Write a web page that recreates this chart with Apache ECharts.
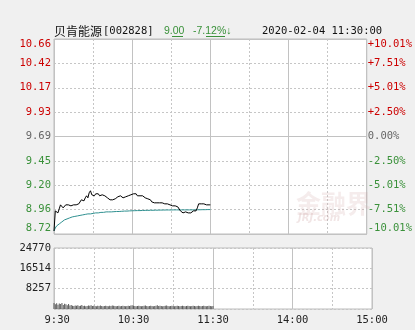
<!DOCTYPE html>
<html><head><meta charset="utf-8">
<script src="https://cdn.jsdelivr.net/npm/echarts@6/dist/echarts.min.js"></script>
<style>html,body{margin:0;padding:0;background:#f0f0f0}#c{width:415px;height:330px}</style>
</head><body><div id="c"></div>
<script>
// ---- data ----
var stockName = '贝肯能源';
var stockCode = '[002828]';
var lastPrice = '9.00';
var lastChange = '-7.12%↓';
var stamp = '2020-02-04 11:30:00';
var prevClose = 9.69;
var priceMin = 8.72, priceMax = 10.66;
var priceLabels = ['8.72','8.96','9.20','9.45','9.69','9.93','10.17','10.42','10.66'];
var pctLabels = ['-10.01%','-7.51%','-5.01%','-2.50%','0.00%','+2.50%','+5.01%','+7.51%','+10.01%'];
var volLabels = ['','8257','16514','24770'];
var volMax = 24770;
var timeLabels = [' 9:30','','10:30','','11:30','','14:00','','15:00'];
var price = [8.75,8.95,8.94,8.93,8.97,9.01,9.00,8.98,8.99,9.01,
9.02,9.01,9.00,9.00,9.01,9.01,9.01,9.01,9.01,9.02,
9.03,9.06,9.05,9.05,9.08,9.10,9.08,9.13,9.15,9.11,
9.10,9.10,9.12,9.13,9.12,9.10,9.11,9.11,9.11,9.10,
9.09,9.08,9.07,9.06,9.05,9.06,9.07,9.07,9.08,9.09,
9.09,9.10,9.09,9.08,9.08,9.09,9.09,9.10,9.11,9.11,
9.11,9.12,9.13,9.12,9.10,9.10,9.10,9.10,9.10,9.09,
9.08,9.07,9.07,9.07,9.06,9.04,9.03,9.03,9.02,9.03,
9.03,9.03,9.04,9.03,9.02,9.02,9.02,9.02,9.01,9.01,
9.01,9.00,9.00,9.00,9.00,8.99,8.98,8.95,8.94,8.93,
8.93,8.94,8.94,8.93,8.93,8.93,8.94,8.95,8.95,8.95,
8.98,9.02,9.02,9.02,9.02,9.02,9.02,9.01,9.01,9.01,9.01];
var avgPrice = [8.75,8.78,8.80,8.81,8.82,8.83,8.84,8.85,8.86,8.865,
8.87,8.875,8.88,8.885,8.89,8.89,8.895,8.895,8.90,8.90,
8.905,8.905,8.91,8.91,8.915,8.915,8.92,8.92,8.92,8.925,
8.925,8.925,8.93,8.93,8.93,8.93,8.935,8.935,8.935,8.935,
8.94,8.94,8.94,8.94,8.94,8.942,8.942,8.942,8.944,8.944,
8.944,8.946,8.946,8.946,8.948,8.948,8.948,8.95,8.95,8.95,
8.951,8.951,8.952,8.952,8.953,8.953,8.953,8.954,8.954,8.954,
8.955,8.955,8.955,8.956,8.956,8.956,8.956,8.957,8.957,8.957,
8.957,8.958,8.958,8.958,8.958,8.958,8.959,8.959,8.959,8.959,
8.959,8.96,8.96,8.96,8.96,8.96,8.96,8.96,8.96,8.96,
8.96,8.96,8.96,8.96,8.96,8.96,8.96,8.96,8.96,8.96,
8.961,8.961,8.961,8.961,8.962,8.962,8.962,8.962,8.963,8.963,8.963];
var volume = [2400,1900,2300,1700,2200,2000,2400,1600,2100,1900,
1500,2000,1400,1600,1300,1200,1400,1300,1500,1200,
1300,1600,1200,1300,1100,1200,1400,1300,1500,1200,
1300,1200,1100,1300,1200,1400,1200,1100,1200,1300,
1200,1100,1300,1200,1400,1300,1200,1100,1200,1300,
1100,1200,1300,1200,1100,1200,1300,1200,1400,1500,
1300,1200,1100,1200,1300,1200,1100,1200,1300,1400,
1200,1100,1200,1300,1200,1100,1200,1300,1500,1200,
1300,1200,1100,1200,1300,1400,1200,1100,1200,1300,
1200,1100,1200,1300,1200,1100,1200,1300,1200,1100,
1200,1300,1200,1100,1200,1300,1200,1100,1200,1300,
1200,1100,1200,1300,1200,1100,1200,1300,1200,1100,1200];

// ---- chart ----
var RED = '#cc0000', GREEN = '#3a913a', GRAY = '#666666';
var MONO = 'DejaVu Sans Mono';
var dash = {color: '#c6c6c6', type: [2, 2], width: 1};
var solid = {color: '#c2c2c2', type: 'solid', width: 1};
function pairs(arr) { return arr.map(function (v, i) { return [i, v]; }); }
function tickIdx(v, step, base) { return Math.round((Number(v) - base) / step); }
var pStep = 2.5025;

var chart = echarts.init(document.getElementById('c'), null, {renderer: 'canvas'});
chart.setOption({
  backgroundColor: '#f0f0f0',
  animation: false,
  grid: [
    {left: 54, top: 39, width: 318, height: 195, show: true, backgroundColor: '#ffffff', borderColor: '#bcbcbc', borderWidth: 1, z: 0},
    {left: 54, top: 248, width: 318, height: 61, show: true, backgroundColor: '#ffffff', borderColor: '#bcbcbc', borderWidth: 1, z: 0}
  ],
  xAxis: [
    {gridIndex: 0, type: 'value', min: 0, max: 240, interval: 30, axisLine: {show: false}, axisTick: {show: false}, axisLabel: {show: false}, splitLine: {show: true, lineStyle: dash}},
    {gridIndex: 0, type: 'value', position: 'top', min: 0, max: 240, interval: 60, axisLine: {show: false}, axisTick: {show: false}, axisLabel: {show: false}, splitLine: {show: true, lineStyle: solid}},
    {gridIndex: 1, type: 'value', min: 0, max: 240, interval: 30, axisLine: {show: false}, axisTick: {show: false},
      axisLabel: {show: true, margin: 6, color: '#222', fontFamily: MONO, fontSize: 10.5,
        formatter: function (v) { return timeLabels[Math.round(v / 30)] || ''; }},
      splitLine: {show: true, lineStyle: dash}},
    {gridIndex: 1, type: 'value', position: 'top', min: 0, max: 240, interval: 60, axisLine: {show: false}, axisTick: {show: false}, axisLabel: {show: false}, splitLine: {show: true, lineStyle: solid}}
  ],
  yAxis: [
    {gridIndex: 0, type: 'value', position: 'left', min: -10.01, max: 10.01, interval: pStep,
      axisLine: {show: false}, axisTick: {show: false}, splitLine: {show: true, lineStyle: dash},
      axisLabel: {margin: 3, fontFamily: MONO, fontSize: 10.5,
        verticalAlignMaxLabel: 'top', verticalAlignMinLabel: 'bottom',
        formatter: function (v) { return priceLabels[tickIdx(v, pStep, -10.01)]; },
        color: function (v) { var k = tickIdx(v, pStep, -10.01); return k > 4 ? RED : (k === 4 ? GRAY : GREEN); }}},
    {gridIndex: 0, type: 'value', position: 'right', min: -10.01, max: 10.01, interval: pStep,
      axisLine: {show: false}, axisTick: {show: false}, splitLine: {show: false},
      axisLabel: {margin: 1, fontFamily: MONO, fontSize: 10.5,
        verticalAlignMaxLabel: 'top', verticalAlignMinLabel: 'bottom',
        formatter: function (v) { return pctLabels[tickIdx(v, pStep, -10.01)]; },
        color: function (v) { var k = tickIdx(v, pStep, -10.01); return k > 4 ? RED : (k === 4 ? GRAY : GREEN); }}},
    {gridIndex: 0, type: 'value', position: 'right', min: -10.01, max: 10.01, interval: 10.01,
      axisLine: {show: false}, axisTick: {show: false}, axisLabel: {show: false}, splitLine: {show: true, lineStyle: solid}},
    {gridIndex: 0, type: 'value', min: priceMin, max: priceMax, show: false, splitLine: {show: false}},
    {gridIndex: 1, type: 'value', min: 0, max: volMax, interval: volMax / 3,
      axisLine: {show: false}, axisTick: {show: false}, splitLine: {show: true, lineStyle: dash},
      axisLabel: {margin: 3, fontFamily: MONO, fontSize: 10.5, color: '#222',
        formatter: function (v) { return volLabels[Math.round(v / (volMax / 3))] || ''; }}}
  ],
  series: [
    {type: 'line', xAxisIndex: 0, yAxisIndex: 3, data: pairs(avgPrice), showSymbol: false, symbol: 'none',
      lineStyle: {color: '#2f9090', width: 1}, z: 3},
    {type: 'line', xAxisIndex: 0, yAxisIndex: 3, data: pairs(price), showSymbol: false, symbol: 'none',
      lineStyle: {color: '#000000', width: 1}, z: 4},
    {type: 'bar', xAxisIndex: 2, yAxisIndex: 4, data: pairs(volume), barWidth: 1,
      itemStyle: {color: '#5a5a5a'}, z: 3}
  ],
  graphic: [
    {type: 'text', left: 54, top: 25, style: {text: stockName, font: '12px "Noto Sans CJK SC"', fill: '#111'}},
    {type: 'text', left: 103, top: 26, style: {text: stockCode, font: '10.5px "DejaVu Sans Mono"', fill: '#111'}},
    {type: 'text', left: 164, top: 26, style: {text: lastPrice, font: '10.5px "Liberation Sans"', fill: GREEN}},
    {type: 'text', left: 193, top: 26, style: {text: lastChange, font: '10.5px "Liberation Sans"', fill: GREEN}},
    {type: 'line', shape: {x1: 172, y1: 36.5, x2: 183, y2: 36.5}, style: {stroke: GREEN, lineWidth: 1}},
    {type: 'line', shape: {x1: 206, y1: 36.5, x2: 225, y2: 36.5}, style: {stroke: GREEN, lineWidth: 1}},
    {type: 'text', left: 262, top: 26, style: {text: stamp, font: '10.5px "DejaVu Sans Mono"', fill: '#111'}},
    {type: 'text', left: 296, top: 191, z: 10, style: {text: '金融界', font: 'bold 25px "Noto Sans CJK SC"', fill: 'rgba(210,170,170,0.22)'}},
    {type: 'text', left: 298, top: 213, z: 10, style: {text: 'JRJ.com', font: 'bold italic 10px "DejaVu Sans"', fill: 'rgba(200,150,150,0.25)'}}
  ]
});
</script></body></html>
